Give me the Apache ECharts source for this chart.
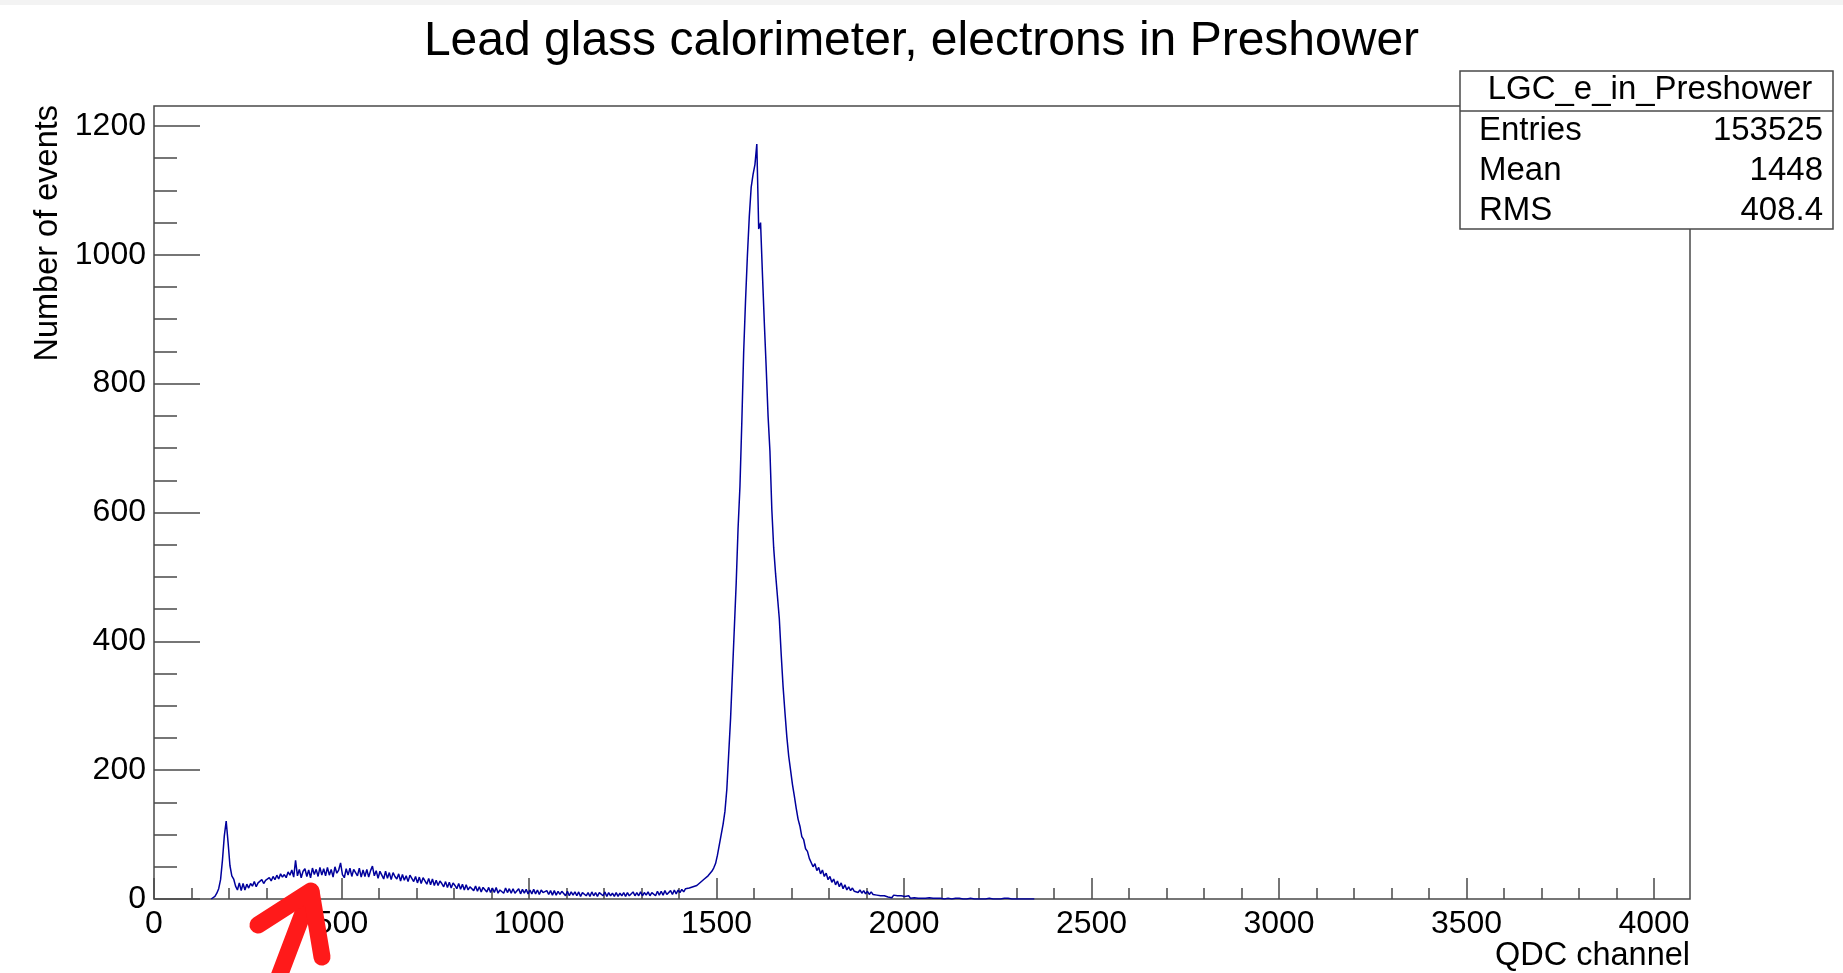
<!DOCTYPE html>
<html><head><meta charset="utf-8">
<script src="https://cdn.jsdelivr.net/npm/echarts@6/dist/echarts.min.js"></script>
<style>html,body{margin:0;padding:0;background:#fff}#c{width:1843px;height:973px}</style>
</head><body><div id="c"></div>
<script>
// ---------------- data ----------------
const titleText = 'Lead glass calorimeter, electrons in Preshower';
const xAxisTitle = 'QDC channel';
const yAxisTitle = 'Number of events';
const xRange = [0, 4096];
const yRange = [0, 1231];
const xTickLabels = [0, 500, 1000, 1500, 2000, 2500, 3000, 3500, 4000];
const yTickLabels = [0, 200, 400, 600, 800, 1000, 1200];
const statsName = 'LGC_e_in_Preshower';
const statsLabels = ['Entries', 'Mean', 'RMS'];
const statsValues = ['153525', '1448', '408.4'];
const binStart = 150;   // QDC channel of first bin
const binWidth = 5;     // channels per bin
const counts = [
  // 150-250
  0, 1, 4, 9, 16, 30, 60, 98, 121, 88, 52, 36, 31, 20, 14, 25, 13, 24, 14, 23,
  // 250-350
  17, 24, 20, 27, 19, 25, 22, 30, 24, 29, 26, 33, 28, 35, 30, 37, 31, 39, 34, 38,
  // 350-450
  33, 42, 37, 45, 34, 60, 36, 46, 33, 43, 47, 35, 45, 33, 48, 38, 46, 35, 49, 37,
  // 450-550
  47, 36, 49, 37, 46, 34, 50, 40, 45, 56, 38, 33, 47, 37, 48, 35, 46, 43, 36, 48,
  // 550-650
  34, 45, 35, 46, 34, 44, 51, 36, 44, 32, 43, 37, 31, 43, 32, 41, 30, 41, 35, 31,
  // 650-750
  39, 28, 38, 29, 36, 27, 37, 32, 27, 35, 25, 34, 24, 33, 28, 23, 32, 22, 31, 21,
  // 750-850
  29, 21, 28, 24, 19, 27, 18, 26, 17, 25, 21, 16, 24, 15, 23, 14, 22, 14, 19, 21,
  // 850-950
  13, 20, 12, 19, 11, 18, 16, 11, 18, 10, 17, 10, 18, 9, 14, 17, 9, 17, 10, 16,
  // 950-1050
  9, 16, 9, 12, 16, 8, 15, 9, 15, 8, 14, 8, 15, 8, 14, 7, 14, 10, 8, 13,
  // 1050-1150
  7, 13, 6, 13, 6, 12, 7, 12, 9, 5, 12, 5, 11, 6, 11, 5, 11, 4, 10, 8,
  // 1150-1250
  5, 10, 4, 11, 5, 10, 4, 10, 7, 5, 11, 4, 10, 5, 9, 4, 10, 4, 9, 5,
  // 1250-1350
  10, 4, 10, 5, 8, 11, 5, 10, 5, 11, 5, 10, 6, 11, 5, 10, 12, 5, 12, 6,
  // 1350-1450
  12, 6, 13, 7, 9, 13, 7, 14, 8, 14, 10, 15, 11, 16, 13, 17, 14, 19, 16, 21,
  // 1450-1550
  21, 26, 24, 31, 29, 36, 39, 43, 48, 55, 68, 84, 100, 116, 136, 170, 225, 280, 350, 420,
  // 1550-1650
  490, 575, 640, 740, 850, 930, 1000, 1060, 1105, 1125, 1140, 1172, 1040, 1050, 970, 895, 825, 750, 695, 605,
  // 1650-1750
  545, 505, 470, 435, 380, 330, 290, 252, 222, 200, 178, 160, 141, 124, 113, 97, 92, 78, 74, 63,
  // 1750-1850
  60, 50, 55, 44, 49, 39, 45, 35, 40, 30, 35, 26, 31, 22, 28, 19, 25, 16, 22, 14,
  // 1850-1950
  19, 13, 17, 12, 15, 10, 14, 9, 13, 8, 12, 7, 11, 7, 10, 6, 9, 5, 8, 5,
  // 1950-2050
  7, 3, 6, 2, 6, 3, 5, 2, 5, 2, 4, 2, 5, 1, 4, 2, 3, 1, 4, 1,
  // 2050-2150
  3, 1, 2, 2, 3, 1, 2, 1, 2, 1, 2, 0, 2, 1, 1, 0, 1, 1, 0, 1,
  // 2150-2250
  1, 0, 1, 0, 0, 1, 0, 0, 1, 0, 0, 0, 1, 0, 0, 1, 0, 0, 0, 0,
  // 2250-2350
  0, 0, 0, 1, 0, 1, 0, 0, 0, 0, 0, 0, 0, 0, 0, 0, 0, 0, 0, 0
];

// ---------------- chart ----------------
const FONT = "'Liberation Sans', Arial, Helvetica, sans-serif";
const AX = '#4a4a4a';
const xMinor = [], yMinor = [];
for (let v = 100; v < 4096; v += 100) if (v % 500) xMinor.push(v);
for (let v = 50; v <= 1200; v += 50) if (v % 200) yMinor.push(v);
const seriesData = counts.map((c, i) => [binStart + (i + 0.5) * binWidth, c]);

const chart = echarts.init(document.getElementById('c'), null, {renderer: 'canvas'});
const L = 154, T = 106, W = 1536, H = 793;
const plain = v => String(v);

const baseX = {type: 'value', min: xRange[0], max: xRange[1], gridIndex: 0, position: 'bottom',
  axisLine: {show: false}, splitLine: {show: false}};
const baseY = {type: 'value', min: yRange[0], max: yRange[1], gridIndex: 0, position: 'left',
  axisLine: {show: false}, splitLine: {show: false}};

chart.setOption({
  animation: false,
  backgroundColor: '#ffffff',
  title: {text: titleText, left: 'center', top: 18, padding: 0,
    textStyle: {fontFamily: FONT, fontSize: 48, fontWeight: 'normal', color: '#000'}},
  grid: {left: L, top: T, width: W, height: H, containLabel: false, show: true,
    borderColor: AX, borderWidth: 1.5, backgroundColor: 'transparent'},
  xAxis: [
    Object.assign({}, baseX, {
      axisTick: {show: true, inside: true, length: 21, customValues: xTickLabels, lineStyle: {color: AX, width: 1.5}},
      axisLabel: {show: true, customValues: xTickLabels, formatter: plain, margin: 9, fontFamily: FONT, fontSize: 32, color: '#000'}
    }),
    Object.assign({}, baseX, {
      axisTick: {show: true, inside: true, length: 11, customValues: xMinor, lineStyle: {color: AX, width: 1.5}},
      axisLabel: {show: false}
    })
  ],
  yAxis: [
    Object.assign({}, baseY, {
      axisTick: {show: true, inside: true, length: 46, customValues: yTickLabels, lineStyle: {color: AX, width: 1.5}},
      axisLabel: {show: true, customValues: yTickLabels, formatter: plain, margin: 8, fontFamily: FONT, fontSize: 32, color: '#000'}
    }),
    Object.assign({}, baseY, {
      axisTick: {show: true, inside: true, length: 23, customValues: yMinor, lineStyle: {color: AX, width: 1.5}},
      axisLabel: {show: false}
    })
  ],
  series: [{
    type: 'line', xAxisIndex: 0, yAxisIndex: 0, data: seriesData,
    showSymbol: false, symbol: 'none', clip: true,
    lineStyle: {color: '#00009c', width: 1.5}
  }],
  graphic: [
    {type: 'rect', shape: {x: 0, y: 0, width: 1843, height: 5}, style: {fill: '#f3f3f3'}, z: 1},
    {type: 'text', x: 48, y: 105, rotation: Math.PI / 2,
      style: {text: yAxisTitle, fontFamily: FONT, fontSize: 32.5, fill: '#000', align: 'right', verticalAlign: 'middle'}},
    {type: 'text', x: 1690, y: 956,
      style: {text: xAxisTitle, fontFamily: FONT, fontSize: 32.5, fill: '#000', align: 'right', verticalAlign: 'middle'}},
    {type: 'rect', shape: {x: 1460, y: 71, width: 373, height: 158},
      style: {fill: '#fff', stroke: AX, lineWidth: 1.5}, z: 50},
    {type: 'line', shape: {x1: 1460, y1: 111, x2: 1833, y2: 111}, style: {stroke: AX, lineWidth: 1.5}, z: 51},
    {type: 'text', x: 1650, y: 90, z: 52,
      style: {text: statsName, fontFamily: FONT, fontSize: 33, fill: '#000', align: 'center', verticalAlign: 'middle'}},
    ...statsLabels.map((s, i) => ({type: 'text', x: 1479, y: 131 + i * 40, z: 52,
      style: {text: s, fontFamily: FONT, fontSize: 33, fill: '#000', align: 'left', verticalAlign: 'middle'}})),
    ...statsValues.map((s, i) => ({type: 'text', x: 1823, y: 131 + i * 40, z: 52,
      style: {text: s, fontFamily: FONT, fontSize: 33, fill: '#000', align: 'right', verticalAlign: 'middle'}})),
    {type: 'polyline', z: 100, shape: {points: [[272, 995], [311, 892]]},
      style: {stroke: '#ff1a1a', fill: null, lineWidth: 17, lineCap: 'round', lineJoin: 'round'}},
    {type: 'polyline', z: 100, shape: {points: [[258, 925], [311, 891], [322, 957]]},
      style: {stroke: '#ff1a1a', fill: null, lineWidth: 17, lineCap: 'round', lineJoin: 'round'}}
  ]
});
</script>
</body></html>
